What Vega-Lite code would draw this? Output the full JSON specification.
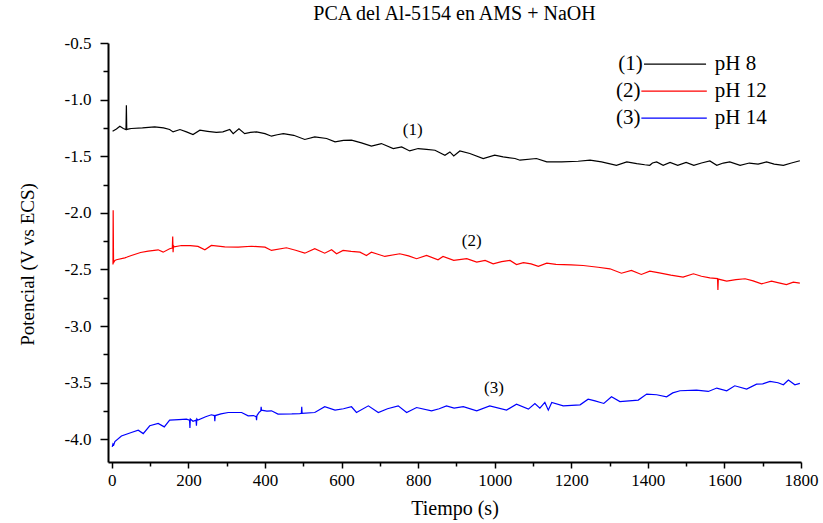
{
  "$schema": "https://vega.github.io/schema/vega-lite/v6.json",
  "width": 693,
  "height": 419,
  "autosize": "none",
  "padding": {"left": 108, "top": 43, "right": 22, "bottom": 61},
  "background": "white",
  "title": {"text": "PCA del Al-5154 en AMS + NaOH", "font": "Liberation Serif", "fontSize": 20, "fontWeight": "normal", "color": "black", "anchor": "middle", "offset": 10},
  "config": {
    "view": {"stroke": null},
    "font": "Liberation Serif",
    "title": {"font": "Liberation Serif"},
    "axis": {"labelFont": "Liberation Serif", "titleFont": "Liberation Serif"},
    "text": {"font": "Liberation Serif"}
  },
  "datasets": {
    "curves": [
      {"s":"pH 8","t":2,"v":-1.279},{"s":"pH 8","t":12,"v":-1.26},{"s":"pH 8","t":21,"v":-1.235},{"s":"pH 8","t":30,"v":-1.255},{"s":"pH 8","t":37,"v":-1.264},{"s":"pH 8","t":38,"v":-1.05},{"s":"pH 8","t":39,"v":-1.264},{"s":"pH 8","t":45,"v":-1.258},{"s":"pH 8","t":51,"v":-1.255},{"s":"pH 8","t":80,"v":-1.25},{"s":"pH 8","t":112,"v":-1.24},{"s":"pH 8","t":135,"v":-1.25},{"s":"pH 8","t":151,"v":-1.264},{"s":"pH 8","t":160,"v":-1.285},{"s":"pH 8","t":178,"v":-1.264},{"s":"pH 8","t":195,"v":-1.285},{"s":"pH 8","t":212,"v":-1.308},{"s":"pH 8","t":230,"v":-1.27},{"s":"pH 8","t":250,"v":-1.28},{"s":"pH 8","t":273,"v":-1.29},{"s":"pH 8","t":290,"v":-1.285},{"s":"pH 8","t":308,"v":-1.264},{"s":"pH 8","t":317,"v":-1.3},{"s":"pH 8","t":332,"v":-1.258},{"s":"pH 8","t":347,"v":-1.3},{"s":"pH 8","t":362,"v":-1.29},{"s":"pH 8","t":378,"v":-1.285},{"s":"pH 8","t":400,"v":-1.3},{"s":"pH 8","t":417,"v":-1.323},{"s":"pH 8","t":432,"v":-1.31},{"s":"pH 8","t":448,"v":-1.3},{"s":"pH 8","t":475,"v":-1.315},{"s":"pH 8","t":504,"v":-1.352},{"s":"pH 8","t":530,"v":-1.329},{"s":"pH 8","t":561,"v":-1.343},{"s":"pH 8","t":583,"v":-1.373},{"s":"pH 8","t":605,"v":-1.36},{"s":"pH 8","t":626,"v":-1.358},{"s":"pH 8","t":652,"v":-1.382},{"s":"pH 8","t":678,"v":-1.41},{"s":"pH 8","t":704,"v":-1.388},{"s":"pH 8","t":735,"v":-1.432},{"s":"pH 8","t":757,"v":-1.418},{"s":"pH 8","t":778,"v":-1.453},{"s":"pH 8","t":800,"v":-1.432},{"s":"pH 8","t":822,"v":-1.44},{"s":"pH 8","t":844,"v":-1.447},{"s":"pH 8","t":870,"v":-1.491},{"s":"pH 8","t":883,"v":-1.462},{"s":"pH 8","t":893,"v":-1.497},{"s":"pH 8","t":909,"v":-1.453},{"s":"pH 8","t":935,"v":-1.476},{"s":"pH 8","t":970,"v":-1.52},{"s":"pH 8","t":1000,"v":-1.491},{"s":"pH 8","t":1022,"v":-1.506},{"s":"pH 8","t":1053,"v":-1.52},{"s":"pH 8","t":1066,"v":-1.535},{"s":"pH 8","t":1109,"v":-1.52},{"s":"pH 8","t":1136,"v":-1.55},{"s":"pH 8","t":1175,"v":-1.55},{"s":"pH 8","t":1218,"v":-1.544},{"s":"pH 8","t":1249,"v":-1.535},{"s":"pH 8","t":1279,"v":-1.55},{"s":"pH 8","t":1318,"v":-1.58},{"s":"pH 8","t":1345,"v":-1.55},{"s":"pH 8","t":1371,"v":-1.565},{"s":"pH 8","t":1392,"v":-1.575},{"s":"pH 8","t":1405,"v":-1.58},{"s":"pH 8","t":1412,"v":-1.56},{"s":"pH 8","t":1423,"v":-1.55},{"s":"pH 8","t":1440,"v":-1.58},{"s":"pH 8","t":1458,"v":-1.555},{"s":"pH 8","t":1478,"v":-1.58},{"s":"pH 8","t":1500,"v":-1.555},{"s":"pH 8","t":1520,"v":-1.58},{"s":"pH 8","t":1540,"v":-1.56},{"s":"pH 8","t":1562,"v":-1.541},{"s":"pH 8","t":1580,"v":-1.58},{"s":"pH 8","t":1597,"v":-1.56},{"s":"pH 8","t":1614,"v":-1.55},{"s":"pH 8","t":1641,"v":-1.58},{"s":"pH 8","t":1665,"v":-1.56},{"s":"pH 8","t":1688,"v":-1.57},{"s":"pH 8","t":1710,"v":-1.55},{"s":"pH 8","t":1730,"v":-1.57},{"s":"pH 8","t":1754,"v":-1.58},{"s":"pH 8","t":1775,"v":-1.56},{"s":"pH 8","t":1797,"v":-1.54},
      {"s":"pH 12","t":3,"v":-2.456},{"s":"pH 12","t":3.5,"v":-1.978},{"s":"pH 12","t":4.5,"v":-2.44},{"s":"pH 12","t":8,"v":-2.42},{"s":"pH 12","t":12,"v":-2.414},{"s":"pH 12","t":34,"v":-2.397},{"s":"pH 12","t":40,"v":-2.39},{"s":"pH 12","t":51,"v":-2.376},{"s":"pH 12","t":75,"v":-2.35},{"s":"pH 12","t":95,"v":-2.338},{"s":"pH 12","t":121,"v":-2.326},{"s":"pH 12","t":134,"v":-2.347},{"s":"pH 12","t":151,"v":-2.317},{"s":"pH 12","t":158,"v":-2.31},{"s":"pH 12","t":159,"v":-2.208},{"s":"pH 12","t":160,"v":-2.347},{"s":"pH 12","t":161,"v":-2.29},{"s":"pH 12","t":163,"v":-2.3},{"s":"pH 12","t":182,"v":-2.288},{"s":"pH 12","t":205,"v":-2.29},{"s":"pH 12","t":225,"v":-2.296},{"s":"pH 12","t":243,"v":-2.326},{"s":"pH 12","t":260,"v":-2.288},{"s":"pH 12","t":295,"v":-2.3},{"s":"pH 12","t":330,"v":-2.303},{"s":"pH 12","t":365,"v":-2.295},{"s":"pH 12","t":400,"v":-2.303},{"s":"pH 12","t":417,"v":-2.332},{"s":"pH 12","t":456,"v":-2.308},{"s":"pH 12","t":480,"v":-2.33},{"s":"pH 12","t":504,"v":-2.356},{"s":"pH 12","t":530,"v":-2.317},{"s":"pH 12","t":556,"v":-2.356},{"s":"pH 12","t":574,"v":-2.326},{"s":"pH 12","t":587,"v":-2.361},{"s":"pH 12","t":604,"v":-2.332},{"s":"pH 12","t":625,"v":-2.34},{"s":"pH 12","t":648,"v":-2.347},{"s":"pH 12","t":665,"v":-2.376},{"s":"pH 12","t":678,"v":-2.347},{"s":"pH 12","t":695,"v":-2.365},{"s":"pH 12","t":713,"v":-2.385},{"s":"pH 12","t":752,"v":-2.361},{"s":"pH 12","t":775,"v":-2.38},{"s":"pH 12","t":796,"v":-2.405},{"s":"pH 12","t":822,"v":-2.376},{"s":"pH 12","t":852,"v":-2.414},{"s":"pH 12","t":865,"v":-2.385},{"s":"pH 12","t":893,"v":-2.42},{"s":"pH 12","t":927,"v":-2.405},{"s":"pH 12","t":953,"v":-2.435},{"s":"pH 12","t":975,"v":-2.42},{"s":"pH 12","t":996,"v":-2.45},{"s":"pH 12","t":1018,"v":-2.43},{"s":"pH 12","t":1040,"v":-2.42},{"s":"pH 12","t":1057,"v":-2.456},{"s":"pH 12","t":1075,"v":-2.44},{"s":"pH 12","t":1095,"v":-2.45},{"s":"pH 12","t":1114,"v":-2.473},{"s":"pH 12","t":1136,"v":-2.444},{"s":"pH 12","t":1160,"v":-2.455},{"s":"pH 12","t":1200,"v":-2.46},{"s":"pH 12","t":1231,"v":-2.465},{"s":"pH 12","t":1270,"v":-2.48},{"s":"pH 12","t":1301,"v":-2.494},{"s":"pH 12","t":1331,"v":-2.533},{"s":"pH 12","t":1357,"v":-2.509},{"s":"pH 12","t":1383,"v":-2.544},{"s":"pH 12","t":1405,"v":-2.515},{"s":"pH 12","t":1430,"v":-2.53},{"s":"pH 12","t":1460,"v":-2.55},{"s":"pH 12","t":1492,"v":-2.568},{"s":"pH 12","t":1519,"v":-2.538},{"s":"pH 12","t":1540,"v":-2.56},{"s":"pH 12","t":1562,"v":-2.574},{"s":"pH 12","t":1582,"v":-2.58},{"s":"pH 12","t":1583,"v":-2.68},{"s":"pH 12","t":1584,"v":-2.585},{"s":"pH 12","t":1606,"v":-2.603},{"s":"pH 12","t":1630,"v":-2.59},{"s":"pH 12","t":1654,"v":-2.582},{"s":"pH 12","t":1675,"v":-2.6},{"s":"pH 12","t":1697,"v":-2.627},{"s":"pH 12","t":1723,"v":-2.603},{"s":"pH 12","t":1745,"v":-2.62},{"s":"pH 12","t":1762,"v":-2.633},{"s":"pH 12","t":1780,"v":-2.612},{"s":"pH 12","t":1797,"v":-2.62},
      {"s":"pH 14","t":1,"v":-4.066},{"s":"pH 14","t":3,"v":-4.04},{"s":"pH 14","t":5,"v":-4.05},{"s":"pH 14","t":8,"v":-4.02},{"s":"pH 14","t":25,"v":-3.97},{"s":"pH 14","t":51,"v":-3.94},{"s":"pH 14","t":69,"v":-3.919},{"s":"pH 14","t":82,"v":-3.949},{"s":"pH 14","t":99,"v":-3.88},{"s":"pH 14","t":121,"v":-3.86},{"s":"pH 14","t":137,"v":-3.89},{"s":"pH 14","t":151,"v":-3.83},{"s":"pH 14","t":175,"v":-3.825},{"s":"pH 14","t":195,"v":-3.821},{"s":"pH 14","t":203,"v":-3.83},{"s":"pH 14","t":204,"v":-3.9},{"s":"pH 14","t":205,"v":-3.82},{"s":"pH 14","t":212,"v":-3.84},{"s":"pH 14","t":220,"v":-3.83},{"s":"pH 14","t":221,"v":-3.88},{"s":"pH 14","t":222,"v":-3.82},{"s":"pH 14","t":225,"v":-3.83},{"s":"pH 14","t":245,"v":-3.8},{"s":"pH 14","t":260,"v":-3.783},{"s":"pH 14","t":268,"v":-3.79},{"s":"pH 14","t":269,"v":-3.84},{"s":"pH 14","t":270,"v":-3.79},{"s":"pH 14","t":285,"v":-3.775},{"s":"pH 14","t":304,"v":-3.763},{"s":"pH 14","t":339,"v":-3.763},{"s":"pH 14","t":356,"v":-3.792},{"s":"pH 14","t":370,"v":-3.79},{"s":"pH 14","t":377,"v":-3.8},{"s":"pH 14","t":378,"v":-3.83},{"s":"pH 14","t":379,"v":-3.79},{"s":"pH 14","t":385,"v":-3.76},{"s":"pH 14","t":389,"v":-3.75},{"s":"pH 14","t":390,"v":-3.712},{"s":"pH 14","t":391,"v":-3.742},{"s":"pH 14","t":405,"v":-3.75},{"s":"pH 14","t":417,"v":-3.748},{"s":"pH 14","t":434,"v":-3.777},{"s":"pH 14","t":470,"v":-3.775},{"s":"pH 14","t":491,"v":-3.772},{"s":"pH 14","t":495,"v":-3.77},{"s":"pH 14","t":496,"v":-3.712},{"s":"pH 14","t":497,"v":-3.77},{"s":"pH 14","t":530,"v":-3.763},{"s":"pH 14","t":556,"v":-3.712},{"s":"pH 14","t":583,"v":-3.742},{"s":"pH 14","t":605,"v":-3.73},{"s":"pH 14","t":626,"v":-3.712},{"s":"pH 14","t":639,"v":-3.763},{"s":"pH 14","t":670,"v":-3.704},{"s":"pH 14","t":696,"v":-3.763},{"s":"pH 14","t":720,"v":-3.73},{"s":"pH 14","t":748,"v":-3.704},{"s":"pH 14","t":770,"v":-3.763},{"s":"pH 14","t":796,"v":-3.719},{"s":"pH 14","t":835,"v":-3.748},{"s":"pH 14","t":855,"v":-3.73},{"s":"pH 14","t":874,"v":-3.704},{"s":"pH 14","t":894,"v":-3.724},{"s":"pH 14","t":918,"v":-3.712},{"s":"pH 14","t":953,"v":-3.748},{"s":"pH 14","t":987,"v":-3.704},{"s":"pH 14","t":1031,"v":-3.742},{"s":"pH 14","t":1057,"v":-3.689},{"s":"pH 14","t":1088,"v":-3.733},{"s":"pH 14","t":1105,"v":-3.683},{"s":"pH 14","t":1118,"v":-3.724},{"s":"pH 14","t":1131,"v":-3.674},{"s":"pH 14","t":1140,"v":-3.742},{"s":"pH 14","t":1149,"v":-3.674},{"s":"pH 14","t":1179,"v":-3.704},{"s":"pH 14","t":1223,"v":-3.695},{"s":"pH 14","t":1244,"v":-3.645},{"s":"pH 14","t":1262,"v":-3.66},{"s":"pH 14","t":1285,"v":-3.683},{"s":"pH 14","t":1305,"v":-3.624},{"s":"pH 14","t":1327,"v":-3.666},{"s":"pH 14","t":1375,"v":-3.653},{"s":"pH 14","t":1397,"v":-3.6},{"s":"pH 14","t":1423,"v":-3.606},{"s":"pH 14","t":1449,"v":-3.624},{"s":"pH 14","t":1465,"v":-3.59},{"s":"pH 14","t":1484,"v":-3.571},{"s":"pH 14","t":1527,"v":-3.565},{"s":"pH 14","t":1558,"v":-3.577},{"s":"pH 14","t":1580,"v":-3.547},{"s":"pH 14","t":1606,"v":-3.571},{"s":"pH 14","t":1627,"v":-3.527},{"s":"pH 14","t":1658,"v":-3.556},{"s":"pH 14","t":1684,"v":-3.512},{"s":"pH 14","t":1700,"v":-3.51},{"s":"pH 14","t":1719,"v":-3.489},{"s":"pH 14","t":1740,"v":-3.5},{"s":"pH 14","t":1754,"v":-3.518},{"s":"pH 14","t":1767,"v":-3.476},{"s":"pH 14","t":1784,"v":-3.518},{"s":"pH 14","t":1797,"v":-3.506}
    ],
    "legend": [
      {"s":"pH 8","num":"(1)","x1":1390,"x2":1552,"xl":1387,"xr":1575,"y":-0.686},
      {"s":"pH 12","num":"(2)","x1":1383,"x2":1554,"xl":1381,"xr":1575,"y":-0.925},
      {"s":"pH 14","num":"(3)","x1":1383,"x2":1554,"xl":1381,"xr":1575,"y":-1.164}
    ],
    "notes": [
      {"label":"(1)","x":786,"y":-1.27},
      {"label":"(2)","x":940,"y":-2.252},
      {"label":"(3)","x":998,"y":-3.544}
    ]
  },
  "resolve": {"axis": {"x": "independent", "y": "independent"}},
  "layer": [
    {
      "data": {"name": "curves"},
      "mark": {"type": "line", "strokeWidth": 1.2},
      "encoding": {
        "x": {"field": "t", "type": "quantitative", "scale": {"domain": [-10, 1800], "nice": false, "zero": false},
          "axis": {"orient": "bottom", "values": [0,200,400,600,800,1000,1200,1400,1600,1800], "format": "d", "title": "Tiempo (s)", "titleFont": "Liberation Serif", "titleFontSize": 20, "titleFontWeight": "normal", "titleColor": "black", "titlePadding": 10, "labelFont": "Liberation Serif", "labelFontSize": 17, "labelColor": "black", "labelPadding": 4, "labelFlush": false, "labelOverlap": false, "domainColor": "black", "domainWidth": 2, "tickColor": "black", "tickWidth": 1.5, "tickSize": 6, "grid": false}},
        "y": {"field": "v", "type": "quantitative", "scale": {"domain": [-4.2, -0.5], "nice": false, "zero": false},
          "axis": {"orient": "left", "values": [-4,-3.5,-3,-2.5,-2,-1.5,-1,-0.5], "format": ".1f", "labelExpr": "replace(datum.label, '\u2212', '-')", "title": "Potencial (V vs ECS)", "titleFont": "Liberation Serif", "titleFontSize": 19, "titleFontWeight": "normal", "titleColor": "black", "titlePadding": 27, "titleY": 221, "labelFont": "Liberation Serif", "labelFontSize": 17, "labelColor": "black", "labelPadding": 9, "labelFlush": false, "labelOverlap": false, "domainColor": "black", "domainWidth": 2, "tickColor": "black", "tickWidth": 1.5, "tickSize": 8, "grid": false}},
        "color": {"field": "s", "type": "nominal", "scale": {"domain": ["pH 8", "pH 12", "pH 14"], "range": ["#000000", "#ff0000", "#0000ff"]}, "legend": null}
      }
    },
    {
      "data": {"name": "legend"},
      "mark": {"type": "rule", "strokeWidth": 1.2},
      "encoding": {
        "x": {"field": "x1", "type": "quantitative", "scale": {"domain": [-10, 1800], "nice": false, "zero": false},
          "axis": {"orient": "bottom", "values": [100,300,500,700,900,1100,1300,1500,1700], "labels": false, "title": null, "domain": false, "grid": false, "tickColor": "black", "tickWidth": 1.5, "tickSize": 4}},
        "x2": {"field": "x2"},
        "y": {"field": "y", "type": "quantitative", "scale": {"domain": [-4.2, -0.5], "nice": false, "zero": false},
          "axis": {"orient": "left", "values": [-3.75,-3.25,-2.75,-2.25,-1.75,-1.25,-0.75], "labels": false, "title": null, "domain": false, "grid": false, "tickColor": "black", "tickWidth": 1.5, "tickSize": 5}},
        "color": {"field": "s", "type": "nominal", "scale": {"domain": ["pH 8", "pH 12", "pH 14"], "range": ["#000000", "#ff0000", "#0000ff"]}, "legend": null}
      }
    },
    {
      "data": {"name": "legend"},
      "mark": {"type": "text", "align": "right", "baseline": "middle", "font": "Liberation Serif", "fontSize": 21, "color": "black"},
      "encoding": {
        "x": {"field": "xl", "type": "quantitative", "scale": {"domain": [-10, 1800], "nice": false, "zero": false}, "axis": null},
        "y": {"field": "y", "type": "quantitative", "scale": {"domain": [-4.2, -0.5], "nice": false, "zero": false}, "axis": null},
        "text": {"field": "num"}
      }
    },
    {
      "data": {"name": "legend"},
      "mark": {"type": "text", "align": "left", "baseline": "middle", "font": "Liberation Serif", "fontSize": 21, "color": "black"},
      "encoding": {
        "x": {"field": "xr", "type": "quantitative", "scale": {"domain": [-10, 1800], "nice": false, "zero": false}, "axis": null},
        "y": {"field": "y", "type": "quantitative", "scale": {"domain": [-4.2, -0.5], "nice": false, "zero": false}, "axis": null},
        "text": {"field": "s"}
      }
    },
    {
      "data": {"name": "notes"},
      "mark": {"type": "text", "align": "center", "baseline": "middle", "font": "Liberation Serif", "fontSize": 17, "color": "black"},
      "encoding": {
        "x": {"field": "x", "type": "quantitative", "scale": {"domain": [-10, 1800], "nice": false, "zero": false}, "axis": null},
        "y": {"field": "y", "type": "quantitative", "scale": {"domain": [-4.2, -0.5], "nice": false, "zero": false}, "axis": null},
        "text": {"field": "label"}
      }
    }
  ]
}
